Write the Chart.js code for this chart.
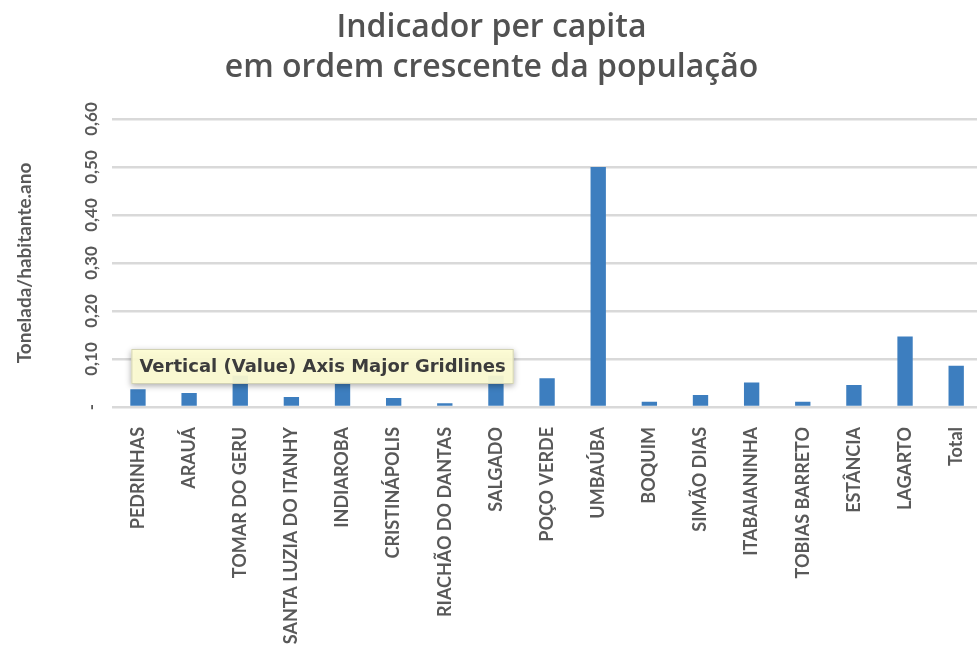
<!DOCTYPE html>
<html>
<head>
<meta charset="utf-8">
<script src="https://cdn.jsdelivr.net/npm/chart.js@4/dist/chart.umd.min.js"></script>
<style>
  html, body { margin: 0; padding: 0; background: #ffffff; overflow: hidden; }
  #wrap { position: relative; width: 990px; height: 647px; }
</style>
</head>
<body>
<div id="wrap"><canvas id="c"></canvas></div>
<script>
// Municipalities, in increasing order of population
const municipios = [
  'PEDRINHAS', 'ARAUÁ', 'TOMAR DO GERU', 'SANTA LUZIA DO ITANHY', 'INDIAROBA',
  'CRISTINÁPOLIS', 'RIACHÃO DO DANTAS', 'SALGADO', 'POÇO VERDE', 'UMBAÚBA',
  'BOQUIM', 'SIMÃO DIAS', 'ITABAIANINHA', 'TOBIAS BARRETO', 'ESTÂNCIA',
  'LAGARTO', 'Total'
];
// Tonnes per inhabitant per year
const perCapita = [
  0.037, 0.029, 0.065, 0.021, 0.052,
  0.019, 0.008, 0.065, 0.060, 0.500,
  0.011, 0.025, 0.051, 0.011, 0.046,
  0.147, 0.086
];
const yTicks = [0, 0.10, 0.20, 0.30, 0.40, 0.50, 0.60];
const chartTitle = ['Indicador per capita', 'em ordem crescente da população'];
const yTitle = 'Tonelada/habitante.ano';
const hoverNote = 'Vertical (Value) Axis Major Gridlines';

const GREY = '#595959';
const FONT = 'Lato, "Open Sans", "DejaVu Sans", sans-serif';

// Yellow hover note sitting over the lower gridlines
const hoverNotePlugin = {
  id: 'hoverNote',
  afterDraw(chart) {
    const { ctx, chartArea, scales } = chart;
    const y10 = scales.y.getPixelForValue(0.10);
    const x0 = chartArea.left + 19;
    const y0 = y10 - 10;
    ctx.save();
    ctx.font = 'bold 18px "DejaVu Sans", sans-serif';
    const w = ctx.measureText(hoverNote).width + 16;
    const h = 35;
    ctx.shadowColor = 'rgba(0,0,0,0.35)';
    ctx.shadowBlur = 6;
    ctx.shadowOffsetY = 2;
    ctx.fillStyle = 'rgba(255,254,212,0.92)';
    ctx.fillRect(x0, y0, w, h);
    ctx.shadowColor = 'transparent';
    ctx.strokeStyle = '#d2d2b4';
    ctx.lineWidth = 1;
    ctx.strokeRect(x0 + 0.5, y0 + 0.5, w - 1, h - 1);
    ctx.fillStyle = '#3c3c3c';
    ctx.textBaseline = 'middle';
    ctx.fillText(hoverNote, x0 + 8, y0 + h / 2 + 1);
    ctx.restore();
  }
};

new Chart(document.getElementById('c'), {
  type: 'bar',
  data: {
    labels: municipios,
    datasets: [{
      data: perCapita,
      backgroundColor: '#3D7EBF',
      borderWidth: 0,
      barPercentage: 0.6,
      categoryPercentage: 0.5
    }]
  },
  options: {
    responsive: true,
    maintainAspectRatio: false,
    animation: false,
    events: [],
    layout: { padding: { left: 0, right: 7, top: 0, bottom: 0 } },
    plugins: {
      legend: { display: false },
      tooltip: { enabled: false },
      title: {
        display: true,
        text: chartTitle,
        color: '#525252',
        font: { family: '"Open Sans", Lato, sans-serif', size: 32, weight: '600', lineHeight: 1.25 },
        padding: { top: 8, bottom: 31 }
      }
    },
    scales: {
      x: {
        grid: { display: false },
        border: { display: false },
        ticks: {
          color: GREY,
          font: { family: FONT, size: 18, weight: 'bold' },
          minRotation: 90,
          maxRotation: 90,
          autoSkip: false,
          padding: 12
        },
        afterFit(scale) { scale.height = 240; }
      },
      y: {
        min: 0,
        max: 0.6,
        afterBuildTicks(scale) { scale.ticks = yTicks.map(v => ({ value: v })); },
        grid: { color: '#d9d9d9', lineWidth: 2.5, drawTicks: false },
        border: { display: false },
        ticks: {
          color: GREY,
          font: { family: FONT, size: 17, weight: 'bold' },
          minRotation: 90,
          maxRotation: 90,
          crossAlign: 'center',
          padding: 4,
          callback: v => v === 0 ? '-' : v.toFixed(2).replace('.', ',')
        },
        title: {
          display: true,
          text: yTitle,
          color: GREY,
          font: { family: FONT, size: 19, weight: 'bold' },
          padding: { top: 13, bottom: 0 }
        },
        afterFit(scale) { scale.width = 112.4; }
      }
    }
  },
  plugins: [hoverNotePlugin]
});
</script>
</body>
</html>
